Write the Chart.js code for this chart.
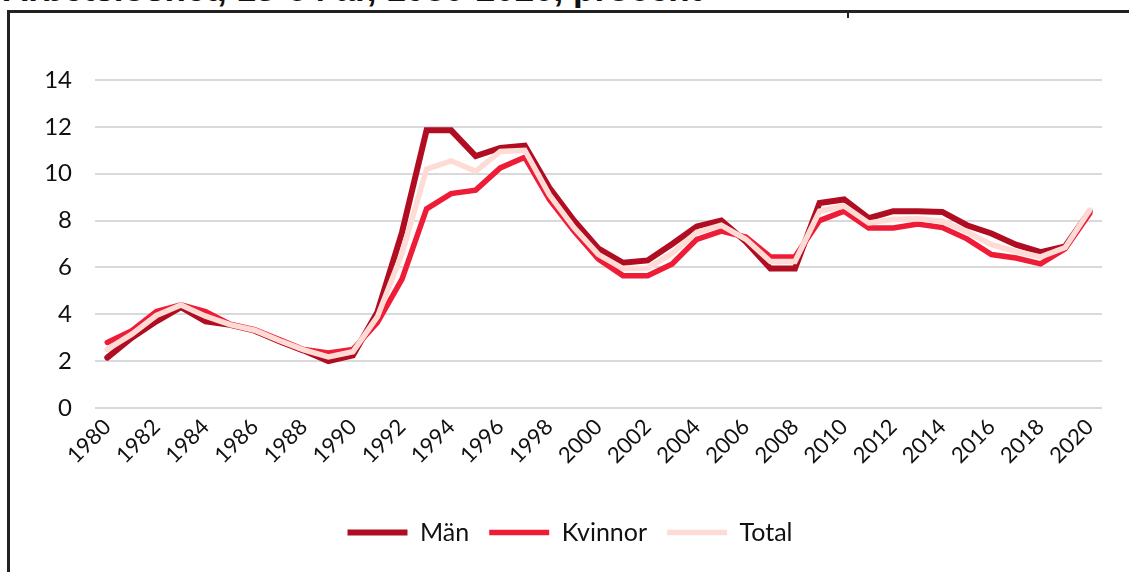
<!DOCTYPE html>
<html>
<head>
<meta charset="utf-8">
<script src="https://cdn.jsdelivr.net/npm/chart.js@4.4.1/dist/chart.umd.min.js"></script>
<style>
  html, body { margin: 0; padding: 0; background: #fff; overflow: hidden; }
  #page { position: relative; width: 1129px; height: 572px; overflow: hidden; }
  #title {
    position: absolute; left: 3px; top: -31px; white-space: nowrap;
    font: bold 35px "Liberation Sans", Arial, sans-serif; color: #111;
  }
  #chart { position: absolute; left: 0; top: 0; }
</style>
</head>
<body>
<div id="page">
  <div id="title">Arbetslöshet, 15-64 år, 1980-2020, procent</div>
  <canvas id="chart" width="1129" height="572"></canvas>
</div>
<script>
// Arbetslöshet 15-64 år, procent

const years = [];
for (let y = 1980; y <= 2020; y++) years.push(String(y));

const man = [
  2.15, 3.0, 3.7, 4.3, 3.7, 3.55, 3.3, 2.85, 2.45, 2.0,
  2.25, 4.1, 7.5, 11.85, 11.85, 10.75, 11.1, 11.2, 9.4, 8.0,
  6.8, 6.2, 6.3, 7.0, 7.75, 8.0, 7.1, 5.95, 5.95, 8.75,
  8.9, 8.1, 8.4, 8.4, 8.37, 7.8, 7.45, 6.97, 6.65, 6.9,
  8.4,
];

const kvinnor = [
  2.8, 3.3, 4.12, 4.4, 4.12, 3.58, 3.35, 2.92, 2.5, 2.35,
  2.5, 3.65, 5.5, 8.5, 9.15, 9.3, 10.25, 10.7, 8.9, 7.55,
  6.35, 5.65, 5.65, 6.15, 7.2, 7.55, 7.3, 6.45, 6.45, 8.0,
  8.4, 7.68, 7.68, 7.85, 7.7, 7.22, 6.55, 6.4, 6.15, 6.8,
  8.3,
];

const total = [
  2.5, 3.15, 3.95, 4.4, 3.92, 3.56, 3.32, 2.88, 2.48, 2.18,
  2.4, 3.9, 6.6, 10.2, 10.55, 10.1, 10.95, 11.0, 9.1, 7.7,
  6.55, 5.95, 5.97, 6.6, 7.5, 7.8, 7.2, 6.25, 6.25, 8.4,
  8.62, 7.9, 8.05, 8.08, 7.97, 7.52, 6.97, 6.68, 6.45, 6.85,
  8.45,
];

const yTicks = [0, 2, 4, 6, 8, 10, 12, 14];

const font = '"Lato", "Noto Sans", sans-serif';

function lineSet(label, data, color, width, order) {
  return {
    label: label,
    data: data,
    borderColor: color,
    backgroundColor: color,
    borderWidth: width,
    borderCapStyle: 'round',
    borderJoinStyle: 'miter',
    pointRadius: 0,
    pointHoverRadius: 0,
    tension: 0,
    fill: false,
    order: order,
  };
}

// dark frame along the top and left edge, with the small stray tick near the top
const framePlugin = {
  id: 'frame',
  beforeDraw(chart) {
    const ctx = chart.ctx;
    ctx.save();
    ctx.fillStyle = '#222';
    ctx.fillRect(7, 10, chart.width - 7, 3);
    ctx.fillRect(7, 10, 3, chart.height - 10);
    ctx.fillRect(847, 12, 2, 6);
    ctx.restore();
  },
};

new Chart(document.getElementById('chart'), {
  type: 'line',
  data: {
    labels: years,
    datasets: [
      lineSet('Män', man, '#b00d22', 6, 3),
      lineSet('Kvinnor', kvinnor, '#ee1c37', 5.5, 2),
      lineSet('Total', total, '#ffdbd5', 5.5, 1),
    ],
  },
  plugins: [framePlugin],
  options: {
    responsive: false,
    animation: false,
    // left padding shifts the centred legend to match the reference
    layout: { padding: { left: 38, right: 27, top: 80, bottom: 17 } },
    scales: {
      x: {
        offset: true,
        grid: { display: false },
        border: { display: false },
        ticks: {
          autoSkip: false,
          maxRotation: 45,
          minRotation: 45,
          padding: -2,
          color: '#111',
          font: { family: font, size: 22 },
          callback: (v, i) => (i % 2 === 0 ? years[i] : ''),
        },
        afterFit: (s) => { s.height = 92; },
      },
      y: {
        min: 0,
        max: 14,
        afterBuildTicks: (s) => { s.ticks = yTicks.map((v) => ({ value: v })); },
        grid: { color: '#d9d9d9', lineWidth: 2, drawTicks: false },
        border: { display: false },
        ticks: {
          padding: 23,
          color: '#111',
          font: { family: font, size: 24 },
        },
        afterFit: (s) => { s.width = 57; },
      },
    },
    plugins: {
      legend: {
        position: 'bottom',
        labels: {
          usePointStyle: true,
          pointStyle: 'line',
          pointStyleWidth: 60,
          padding: 20,
          color: '#111',
          font: { family: font, size: 25 },
          sort: (a, b) => a.datasetIndex - b.datasetIndex,
        },
      },
      tooltip: { enabled: false },
    },
  },
});
</script>
</body>
</html>
